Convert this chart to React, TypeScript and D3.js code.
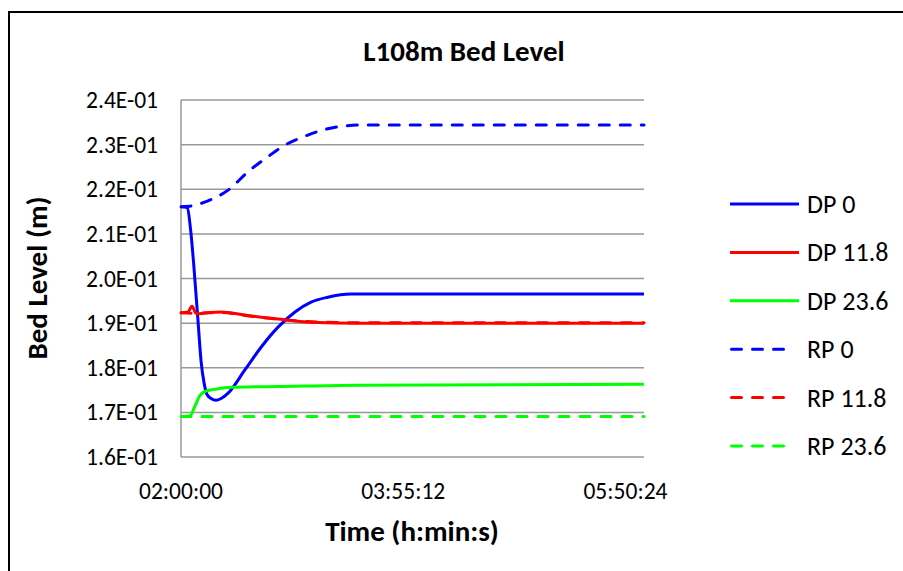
import React, { useEffect, useRef } from 'react'
import * as d3 from 'd3'

// minutes after 02:00:00 and bed level (m)
const dp0: [number, number][] = [
  [0, 0.2161], [3.1, 0.2159], [5.2, 0.2100], [6.8, 0.2020], [8.9, 0.1900], [10.4, 0.1815],
  [12, 0.1765], [13.5, 0.1740], [15.6, 0.1731], [18.1, 0.1727], [20.8, 0.1731], [24.4, 0.1743],
  [33.1, 0.1795], [41.5, 0.1846], [50.3, 0.1891], [59.1, 0.1925], [67.4, 0.1947],
  [76.1, 0.1958], [88.1, 0.1965], [240, 0.1965],
]
const dp118: [number, number][] = [
  [0, 0.1923], [3.6, 0.1925], [5.7, 0.1938], [7.8, 0.1922], [9.4, 0.1921], [14.6, 0.1924],
  [20.8, 0.1925], [33.1, 0.1918], [50.3, 0.1909], [67.4, 0.1902], [91.7, 0.1900], [240, 0.1900],
]
const dp236: [number, number][] = [
  [0, 0.1691], [4.7, 0.1692], [7.3, 0.1715], [9.9, 0.1738], [12.5, 0.1747], [19.2, 0.1753],
  [24.4, 0.1756], [50.3, 0.1758], [91.7, 0.1761], [240, 0.1763],
]
const rp0: [number, number][] = [
  [0, 0.2161], [4.2, 0.2162], [14, 0.2174], [24.4, 0.2198], [34.7, 0.2239], [45.1, 0.2273],
  [53.9, 0.2299], [64.3, 0.2319], [74.7, 0.2334], [85, 0.2342], [95.4, 0.2344], [240, 0.2344],
]
const rp118: [number, number][] = [
  [0, 0.1923], [8.3, 0.1922], [20.8, 0.1924], [33.3, 0.1917], [50, 0.1909], [67.7, 0.1903],
  [91.7, 0.1901], [240, 0.1901],
]
const rp236: [number, number][] = [
  [0, 0.1691], [240, 0.1691],
]

const seriesNames = ['DP 0', 'DP 11.8', 'DP 23.6', 'RP 0', 'RP 11.8', 'RP 23.6']
const seriesData = [dp0, dp118, dp236, rp0, rp118, rp236]
const seriesColors = ['#0000ff', '#ff0000', '#00ff00', '#0000ff', '#ff0000', '#00ff00']
const seriesDashed = [false, false, false, true, true, true]

const yTicks = [0.16, 0.17, 0.18, 0.19, 0.2, 0.21, 0.22, 0.23, 0.24]
const xTicks = [0, 115.2, 230.4]

const font = 'Carlito, Calibri, Lato, sans-serif'

const fmtTime = (m: number) => {
  const s = Math.round(7200 + m * 60)
  const p = (n: number) => String(n).padStart(2, '0')
  return `${p(Math.floor(s / 3600))}:${p(Math.floor((s % 3600) / 60))}:${p(s % 60)}`
}

const App: React.FC = () => {
  const ref = useRef<SVGSVGElement>(null)

  useEffect(() => {
    if (!ref.current) return
    const svg = d3.select(ref.current)
    svg.selectAll('*').remove()

    const left = 181, right = 644, top = 100, bottom = 457

    // axis runs 02:00 to 06:00, labels every 115.2 min
    const x = d3.scaleLinear().domain([0, 240]).range([left, right])
    const y = d3.scaleLinear().domain([0.16, 0.24]).range([bottom, top])

    svg.append('rect')
      .attr('width', 903).attr('height', 571).attr('fill', '#fff')

    svg.append('rect')
      .attr('x', 9).attr('y', 12).attr('width', 1000).attr('height', 1000)
      .attr('fill', 'none').attr('stroke', '#000').attr('stroke-width', 2)

    // gridlines
    svg.append('g')
      .selectAll('line')
      .data(yTicks)
      .enter().append('line')
      .attr('x1', left).attr('x2', right)
      .attr('y1', d => y(d)).attr('y2', d => y(d))
      .attr('stroke', '#999').attr('stroke-width', 1.5)

    // y axis line
    svg.append('line')
      .attr('x1', left).attr('x2', left).attr('y1', top).attr('y2', bottom)
      .attr('stroke', '#999').attr('stroke-width', 1.5)

    // y tick labels
    svg.append('g')
      .selectAll('text')
      .data(yTicks)
      .enter().append('text')
      .attr('x', 158).attr('y', d => y(d))
      .attr('text-anchor', 'end').attr('dominant-baseline', 'central')
      .attr('font-family', font).attr('font-size', 23.5)
      .text(d => `${(d * 10).toFixed(1)}E-01`)

    // x tick labels
    svg.append('g')
      .selectAll('text')
      .data(xTicks)
      .enter().append('text')
      .attr('x', d => x(d)).attr('y', 499)
      .attr('text-anchor', 'middle')
      .attr('font-family', font).attr('font-size', 23.5)
      .text(d => fmtTime(d))

    const line = d3.line<[number, number]>()
      .x(d => x(d[0]))
      .y(d => y(d[1]))
      .curve(d3.curveMonotoneX)

    // dashed first so the solid lines sit above
    const order = [3, 4, 5, 0, 1, 2]
    order.forEach(i => {
      svg.append('path')
        .datum(seriesData[i])
        .attr('d', line)
        .attr('fill', 'none')
        .attr('stroke', seriesColors[i])
        .attr('stroke-width', 3)
        .attr('stroke-linecap', seriesDashed[i] ? 'round' : 'butt')
        .attr('stroke-dasharray', seriesDashed[i] ? '10,11' : null)
    })

    // title
    svg.append('text')
      .attr('x', 464).attr('y', 61)
      .attr('text-anchor', 'middle')
      .attr('font-family', font).attr('font-size', 29).attr('font-weight', 'bold')
      .text('L108m Bed Level')

    svg.append('text')
      .attr('x', 412).attr('y', 541)
      .attr('text-anchor', 'middle')
      .attr('font-family', font).attr('font-size', 29).attr('font-weight', 'bold')
      .text('Time (h:min:s)')

    svg.append('text')
      .attr('transform', 'translate(47,278) rotate(-90)')
      .attr('text-anchor', 'middle')
      .attr('font-family', font).attr('font-size', 29).attr('font-weight', 'bold')
      .text('Bed Level (m)')

    // legend
    const lg = svg.append('g')
    seriesNames.forEach((name, i) => {
      const ly = 204 + i * 48.4
      lg.append('line')
        .attr('x1', seriesDashed[i] ? 731.5 : 730)
        .attr('x2', seriesDashed[i] ? 785 : 799)
        .attr('y1', ly).attr('y2', ly)
        .attr('stroke', seriesColors[i]).attr('stroke-width', 3)
        .attr('stroke-linecap', seriesDashed[i] ? 'round' : 'butt')
        .attr('stroke-dasharray', seriesDashed[i] ? '10,11' : null)
      lg.append('text')
        .attr('x', 807).attr('y', ly)
        .attr('dominant-baseline', 'central')
        .attr('font-family', font).attr('font-size', 26)
        .text(name)
    })
  }, [])

  return (
    <svg ref={ref} width={903} height={571}
      style={{ position: 'absolute', left: 0, top: 0, display: 'block' }} />
  )
}

export default App
